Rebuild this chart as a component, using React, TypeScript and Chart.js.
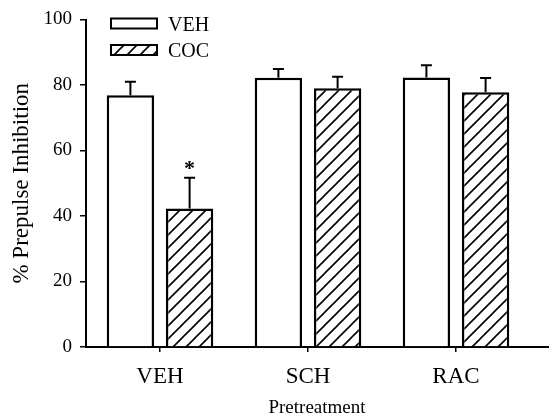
import React, { useEffect, useRef } from "react";
import { Chart, registerables } from "chart.js";

Chart.register(...registerables);

const categories = ["VEH", "SCH", "RAC"];
const seriesNames = ["VEH", "COC"];
const vehValues = [76.9, 82.2, 82.3];
const cocValues = [42.3, 79.0, 77.8];
const vehErrors = [4.1, 2.7, 3.7];
const cocErrors = [9.4, 3.5, 4.3];
const sigOnCoc = [true, false, false];
const yTicks = [0, 20, 40, 60, 80, 100];
const yTitle = "% Prepulse Inhibition";
const xTitle = "Pretreatment";

const SERIF = "'Liberation Serif', 'Times New Roman', serif";

function makeHatch(): CanvasPattern | string {
  const s = 13;
  const c = document.createElement("canvas");
  c.width = s;
  c.height = s;
  const g = c.getContext("2d");
  if (!g) return "#fff";
  g.fillStyle = "#fff";
  g.fillRect(0, 0, s, s);
  g.strokeStyle = "#000";
  g.lineWidth = 1.6;
  g.beginPath();
  g.moveTo(-2, s + 2);
  g.lineTo(s + 2, -2);
  g.moveTo(-2, 2);
  g.lineTo(2, -2);
  g.moveTo(s - 2, s + 2);
  g.lineTo(s + 2, s - 2);
  g.stroke();
  const p = g.createPattern(c, "repeat");
  return p || "#fff";
}

export default function App() {
  const ref = useRef<HTMLCanvasElement | null>(null);

  useEffect(() => {
    const canvas = ref.current;
    if (!canvas) return;
    const hatch = makeHatch();
    const errs = [vehErrors, cocErrors];

    const overlay = {
      id: "overlay",
      afterDatasetsDraw(chart: any) {
        const ctx = chart.ctx;
        const area = chart.chartArea;
        const y = chart.scales.y;
        ctx.save();
        ctx.strokeStyle = "#000";
        ctx.lineWidth = 2;
        chart.data.datasets.forEach((ds: any, di: number) => {
          const meta = chart.getDatasetMeta(di);
          meta.data.forEach((bar: any, i: number) => {
            const v = ds.data[i];
            const top = y.getPixelForValue(v + errs[di][i]);
            const base = y.getPixelForValue(v);
            ctx.beginPath();
            ctx.moveTo(bar.x, base);
            ctx.lineTo(bar.x, top);
            ctx.moveTo(bar.x - 5.5, top);
            ctx.lineTo(bar.x + 5.5, top);
            ctx.stroke();
            if (di === 1 && sigOnCoc[i]) {
              ctx.fillStyle = "#000";
              ctx.font = `bold 22px ${SERIF}`;
              ctx.textAlign = "center";
              ctx.textBaseline = "alphabetic";
              ctx.fillText("*", bar.x, top - 3);
            }
          });
        });
        ctx.beginPath();
        ctx.lineWidth = 2;
        ctx.moveTo(area.right - 1, area.bottom);
        ctx.lineTo(549, area.bottom);
        ctx.stroke();
        ctx.fillStyle = "#000";
        ctx.font = `23px ${SERIF}`;
        ctx.textAlign = "center";
        ctx.textBaseline = "middle";
        ctx.save();
        ctx.translate(22, (area.top + area.bottom) / 2);
        ctx.rotate(-Math.PI / 2);
        ctx.fillText(yTitle, 0, 0);
        ctx.restore();
        ctx.font = `19px ${SERIF}`;
        ctx.textBaseline = "alphabetic";
        ctx.fillText(xTitle, 317, 413);
        const fills = ["#fff", hatch];
        seriesNames.forEach((name, k) => {
          const by = k === 0 ? 18.5 : 45;
          ctx.fillStyle = fills[k] as any;
          ctx.fillRect(111, by, 46, 10);
          ctx.strokeStyle = "#000";
          ctx.lineWidth = 2;
          ctx.strokeRect(111, by, 46, 10);
          ctx.fillStyle = "#000";
          ctx.font = `20px ${SERIF}`;
          ctx.textAlign = "left";
          ctx.textBaseline = "middle";
          ctx.fillText(name, 168, by + 7);
        });
        ctx.restore();
      },
    };

    const chart = new Chart(canvas, {
      type: "bar",
      data: {
        labels: categories,
        datasets: [
          {
            label: seriesNames[0],
            data: vehValues,
            backgroundColor: "#fff",
            borderColor: "#000",
            borderWidth: 2.5,
          },
          {
            label: seriesNames[1],
            data: cocValues,
            backgroundColor: hatch as any,
            borderColor: "#000",
            borderWidth: 2.5,
          },
        ],
      },
      options: {
        responsive: false,
        animation: false,
        devicePixelRatio: 1,
        layout: { padding: { top: 19.5, right: 19, left: 0, bottom: 0 } },
        categoryPercentage: 0.8,
        barPercentage: 0.8,
        plugins: { legend: { display: false }, tooltip: { enabled: false } },
        scales: {
          x: {
            grid: {
              display: true,
              drawOnChartArea: false,
              drawTicks: true,
              tickLength: 5,
              offset: false,
              color: "#000",
              lineWidth: 1.5,
            },
            border: { display: true, color: "#000", width: 2 },
            ticks: {
              color: "#000",
              font: { family: SERIF, size: 23 },
              padding: 11,
            },
            afterFit(scale: any) {
              scale.height = 69;
            },
          },
          y: {
            min: 0,
            max: 100,
            afterBuildTicks(scale: any) {
              scale.ticks = yTicks.map((v) => ({ value: v }));
            },
            grid: {
              display: true,
              drawOnChartArea: false,
              drawTicks: true,
              tickLength: 6,
              color: "#000",
              lineWidth: 1.5,
            },
            border: { display: true, color: "#000", width: 2 },
            ticks: {
              color: "#000",
              font: { family: SERIF, size: 19 },
              padding: 8,
            },
            afterFit(scale: any) {
              scale.width = 86;
            },
          },
        },
      },
      plugins: [overlay],
    });
    return () => chart.destroy();
  }, []);

  return (
    <div style={{ position: "fixed", left: 0, top: 0, width: 549, height: 416, background: "#fff" }}>
      <canvas ref={ref} width={549} height={416} style={{ display: "block" }} />
    </div>
  );
}
